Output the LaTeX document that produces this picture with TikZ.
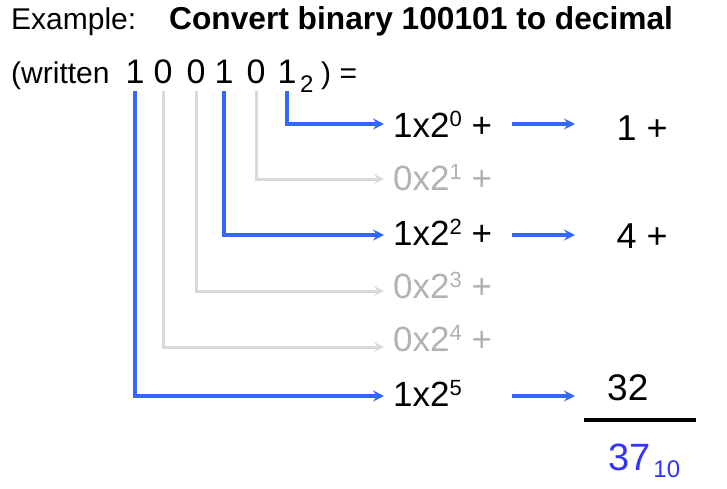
\documentclass[tikz,border=0pt]{standalone}
\usepackage{fontspec}
\setmainfont{Liberation Sans}
\usetikzlibrary{arrows.meta}
\definecolor{arrowblue}{RGB}{51,102,255}
\definecolor{arrowgray}{RGB}{217,217,217}
\definecolor{textgray}{RGB}{178,178,178}
\definecolor{resultblue}{RGB}{51,51,255}
\newcommand\fs[1]{\fontsize{#1}{#1}\selectfont}
\newcommand\pw[1]{\raisebox{11pt}{\fs{22}#1}}
\tikzset{
  bluearrow/.style={draw=arrowblue, line width=3.3pt, -{Stealth[length=11pt,width=11pt,inset=4pt]}},
  grayarrow/.style={draw=arrowgray, line width=3pt, -{Stealth[length=10pt,width=10pt,inset=4pt]}},
  digit/.style={anchor=base, inner xsep=0pt, inner ysep=8pt, text depth=0pt, font=\fs{34}},
  expr/.style={anchor=base west, inner sep=0pt, font=\fs{35}},
  lbl/.style={anchor=base west, inner sep=0pt}
}
\begin{document}
\begin{tikzpicture}[x=1pt,y=-1pt]
\useasboundingbox (0,0) rectangle (727,488);
% title
\node[lbl,font=\fs{30}] (ex) at (11,29.5) {Example:};
\node[lbl,font=\fs{31.7}\bfseries] (title) at (169,29.5) {Convert binary 100101 to decimal};
% second line
\node[lbl,font=\fs{30}] (wr) at (11,83) {(written};
\node[digit] (d5) at (135,83) {1};
\node[digit] (d4) at (163,83) {0};
\node[digit] (d3) at (196,83) {0};
\node[digit] (d2) at (224,83) {1};
\node[digit] (d1) at (256,83) {0};
\node[digit] (d0) at (287,83) {1};
\node[lbl,font=\fs{24}] (base2) at (300,92) {2};
\node[lbl,font=\fs{30}] (eq) at (321,83) {) =};
% expressions
\node[expr] (e0) at (393,137) {1x2\pw{0} +};
\node[expr,text=textgray] (e1) at (393,190) {0x2\pw{1} +};
\node[expr] (e2) at (393,245) {1x2\pw{2} +};
\node[expr,text=textgray] (e3) at (393,298) {0x2\pw{3} +};
\node[expr,text=textgray] (e4) at (393,351) {0x2\pw{4} +};
\node[expr] (e5) at (393,406) {1x2\pw{5}};
% arrow ends
\coordinate (a0) at (384,124);
\coordinate (a1) at (384,179);
\coordinate (a2) at (384,235);
\coordinate (a3) at (384,291);
\coordinate (a4) at (384,347);
\coordinate (a5) at (384,396);
\draw[grayarrow] (d1.south) |- (a1);
\draw[grayarrow] (d3.south) |- (a3);
\draw[grayarrow] (d4.south) |- (a4);
\draw[bluearrow] (d0.south) |- (a0);
\draw[bluearrow] (d2.south) |- (a2);
\draw[bluearrow] (d5.south) |- (a5);
% right column
\node[lbl,font=\fs{36},inner xsep=41.5pt] (r0) at (575,140) {1 +};
\node[lbl,font=\fs{36},inner xsep=41.5pt] (r2) at (575,248) {4 +};
\node[lbl,font=\fs{37},inner xsep=32pt] (r5) at (575,400) {32};
\coordinate (s0) at (512,124);
\coordinate (s2) at (512,235);
\coordinate (s5) at (512,396);
\draw[bluearrow] (s0) -- (s0 -| r0.west);
\draw[bluearrow] (s2) -- (s2 -| r2.west);
\draw[bluearrow] (s5) -- (s5 -| r5.west);
% sum
\draw[line width=4pt] (584,420) -- (696,420);
\node[lbl,font=\fs{38},text=resultblue] (res) at (608,470) {37\hspace{3pt}\raisebox{-7pt}{\fs{24}10}};
\end{tikzpicture}
\end{document}
